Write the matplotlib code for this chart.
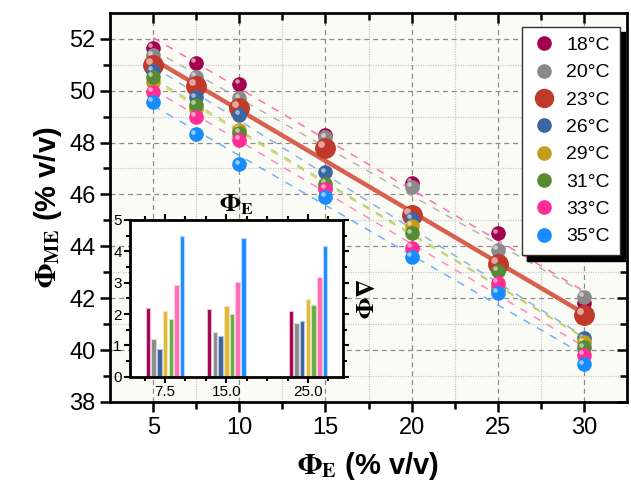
import numpy as np
import matplotlib
matplotlib.use('Agg')
import matplotlib.pyplot as plt
from matplotlib.transforms import offset_copy
from matplotlib.lines import Line2D

plt.rcParams['font.family'] = ['Liberation Sans Narrow', 'Liberation Sans', 'DejaVu Sans']
plt.rcParams['mathtext.fontset'] = 'stix'

# main data
phi_e = [5, 7.5, 10, 15, 20, 25, 30]
temps = ['18°C', '20°C', '23°C', '26°C', '29°C', '31°C', '33°C', '35°C']
phi_me_18 = [51.65, 51.07, 50.25, 48.3, 46.45, 44.5, 41.8]
phi_me_20 = [51.36, 50.52, 49.7, 48.2, 46.3, 43.85, 42.05]
phi_me_23 = [50.97, 50.17, 49.32, 47.8, 45.2, 43.3, 41.35]
phi_me_26 = [50.75, 49.74, 49.06, 46.85, 45.05, 42.35, 40.45]
phi_me_29 = [50.35, 49.3, 48.48, 46.3, 44.8, 42.45, 40.3]
phi_me_31 = [50.52, 49.45, 48.36, 46.4, 44.5, 43.05, 40.1]
phi_me_33 = [49.96, 49.0, 48.09, 46.2, 43.95, 42.6, 39.8]
phi_me_35 = [49.57, 48.31, 47.16, 45.9, 43.6, 42.2, 39.45]

# inset data (delta phi)
inset_x = [7.5, 15.0, 25.0]
inset_temps = ['18°C', '20°C', '26°C', '29°C', '31°C', '33°C', '35°C']
dphi_18 = [2.19, 2.17, 2.09]
dphi_20 = [1.21, 1.44, 1.72]
dphi_26 = [0.89, 1.31, 1.77]
dphi_29 = [2.09, 2.27, 2.48]
dphi_31 = [1.83, 2.00, 2.30]
dphi_33 = [2.93, 3.02, 3.18]
dphi_35 = [4.50, 4.42, 4.18]

series = [phi_me_18, phi_me_20, phi_me_23, phi_me_26, phi_me_29, phi_me_31, phi_me_33, phi_me_35]
colors = ['#a3004f', '#8a8a8a', '#c0392b', '#3b66a3', '#c39d1c', '#578a33', '#ff2d95', '#168cff']
fit_colors = ['#ff6fb5', '#b5b5b5', '#d9604f', '#8fb2e0', '#e6cf6a', '#a9d486', '#ff8ac4', '#6fb1ff']

fig = plt.figure(figsize=(6.31, 4.92), dpi=100)
ax = fig.add_axes([0.1745, 0.183, 0.819, 0.791])
ax.set_facecolor('#fbfbf6')

x = np.array(phi_e)
xfit = np.array([5, 30])
for i, ys in enumerate(series):
    k, b = np.polyfit(x, ys, 1)
    if i == 2:
        ax.plot(xfit, k * xfit + b, color=fit_colors[i], lw=3.2, zorder=3)
    else:
        ax.plot(xfit, k * xfit + b, color=fit_colors[i], lw=1.1, ls=(0, (5, 5)), zorder=2)

hl = offset_copy(ax.transData, fig=fig, x=-2, y=2, units='points')
hl_big = offset_copy(ax.transData, fig=fig, x=-3, y=3, units='points')
order = [2, 0, 1, 3, 4, 5, 6, 7]
for i in order:
    ms = 14 if i == 2 else 9.5
    ax.plot(x, series[i], 'o', color=colors[i], ms=ms, mec=colors[i], zorder=4 + i * 0.1)
    ax.plot(x, series[i], 'o', color='white', alpha=0.55, ms=ms * 0.35, mew=0,
            transform=hl_big if i == 2 else hl, zorder=4 + i * 0.1 + 0.05)

ax.set_xlim(2.5, 32.5)
ax.set_ylim(38, 53)
ax.set_xticks([5, 10, 15, 20, 25, 30])
ax.set_xticks([7.5, 12.5, 17.5, 22.5, 27.5], minor=True)
ax.set_yticks([38, 40, 42, 44, 46, 48, 50, 52])
ax.set_yticks([39, 41, 43, 45, 47, 49, 51], minor=True)
ax.grid(True, which='major', color='#8c8c8c', ls=(0, (4, 3)), lw=0.9)
ax.grid(True, which='minor', color='#c8c8c8', ls=(0, (1, 1)), lw=0.9)
ax.set_axisbelow(True)
for s in ax.spines.values():
    s.set_linewidth(2)
ax.tick_params(which='both', labelsize=17, width=1.8)
ax.tick_params(which='major', length=7)
ax.tick_params(which='minor', length=5)
ax.tick_params(axis='x', which='both', top=True)
ax.tick_params(axis='y', which='both', right=True)
ax.xaxis.set_tick_params(which='both', direction='out')
ax.yaxis.set_tick_params(which='both', direction='out')
for t in ax.xaxis.get_major_ticks() + ax.xaxis.get_minor_ticks():
    t.tick2line.set_marker(3)
for t in ax.yaxis.get_major_ticks() + ax.yaxis.get_minor_ticks():
    t.tick2line.set_marker(0)

ax.set_xlabel(r'$\mathbf{\Phi}_{\mathbf{E}}$ (% v/v)', fontsize=21, fontweight='bold', labelpad=8)
ax.set_ylabel(r'$\mathbf{\Phi}_{\mathbf{ME}}$ (% v/v)', fontsize=21, fontweight='bold', labelpad=4)

handles = []
for i in range(len(temps)):
    ms = 13 if i == 2 else 9.5
    handles.append(Line2D([], [], ls='none', marker='o', color=colors[i], ms=ms))
leg = ax.legend(handles, temps, loc='upper right', bbox_to_anchor=(0.986, 0.964),
                borderaxespad=0, fontsize=14, frameon=True, fancybox=False,
                edgecolor='#333333', labelspacing=0.5, handletextpad=0.5,
                borderpad=0.5, handlelength=1.3,
                shadow={'ox': 4, 'oy': -4, 'color': 'black', 'alpha': 1})
leg.get_frame().set_linewidth(1.0)
leg.get_frame().set_facecolor('white')
leg.set_zorder(10)

# inset bar chart
axi = fig.add_axes([0.206, 0.234, 0.3376, 0.319])
axi.set_facecolor('white')
dvals = [dphi_18, dphi_20, dphi_26, dphi_29, dphi_31, dphi_33, dphi_35]
bar_colors = ['#a3004f', '#8c8c8c', '#3a64a0', '#e0b83a', '#6aaa45', '#ff6eb4', '#1a8cff']
bar_edges = ['#f0b8d0', '#dcdcdc', '#b8c8e0', '#f5e4b0', '#cce6bb', '#ffc8e0', '#b8dcff']
step = 0.7
for j, vals in enumerate(dvals):
    pos = np.array(inset_x) + (j - 3) * step
    axi.bar(pos, vals, width=0.55, color=bar_colors[j], edgecolor=bar_edges[j], linewidth=0.8)
axi.set_xlim(3.2, 29.3)
axi.set_ylim(0, 5)
axi.set_xticks(inset_x)
axi.set_xticklabels(['7.5', '15.0', '25.0'])
axi.set_xticks([5, 10, 12.5, 17.5, 20, 22.5, 27.5], minor=True)
axi.set_yticks([0, 1, 2, 3, 4, 5])
axi.set_yticks([0.5, 1.5, 2.5, 3.5, 4.5], minor=True)
for s in axi.spines.values():
    s.set_linewidth(2)
axi.tick_params(which='both', labelsize=11, width=1.5, pad=2)
axi.tick_params(which='major', length=4)
axi.tick_params(which='minor', length=3)
axi.tick_params(axis='y', which='both', right=True, direction='out')
axi.tick_params(axis='x', which='both', top=True)
axi.set_title(r'$\mathbf{\Phi}_{\mathbf{E}}$', fontsize=18, pad=6)
axi.yaxis.set_label_position('right')
axi.set_ylabel(r'$\mathbf{\Delta\Phi}$', fontsize=18, rotation=270, labelpad=18)

fig.savefig('out.png', dpi=100)
